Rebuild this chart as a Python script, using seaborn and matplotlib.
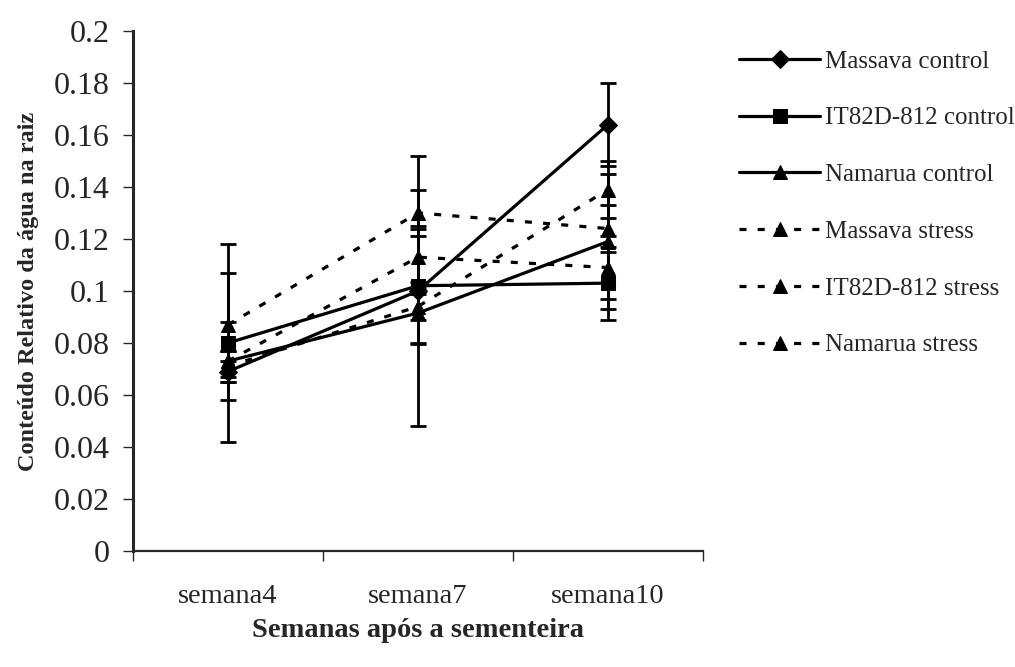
import matplotlib
matplotlib.use("Agg")
import matplotlib.pyplot as plt
import seaborn as sns
import pandas as pd
import numpy as np

weeks = ["semana4", "semana7", "semana10"]
series_names = ["Massava control", "IT82D-812 control", "Namarua control",
                "Massava stress", "IT82D-812 stress", "Namarua stress"]

massava_control = [0.069, 0.100, 0.164]
it82d_control = [0.080, 0.102, 0.103]
namarua_control = [0.073, 0.0915, 0.119]
massava_stress = [0.087, 0.130, 0.124]
it82d_stress = [0.073, 0.113, 0.109]
namarua_stress = [0.071, 0.094, 0.139]

massava_control_err = [0.004, 0.052, 0.016]
it82d_control_err = [0.038, 0.022, 0.014]
namarua_control_err = [0.015, 0.012, 0.026]
massava_stress_err = [0.020, 0.009, 0.009]
it82d_stress_err = [0.004, 0.012, 0.012]
namarua_stress_err = [0.006, 0.005, 0.011]

values = [massava_control, it82d_control, namarua_control,
          massava_stress, it82d_stress, namarua_stress]
errors = [massava_control_err, it82d_control_err, namarua_control_err,
          massava_stress_err, it82d_stress_err, namarua_stress_err]

rows = []
for name, vals in zip(series_names, values):
    for i, (w, v) in enumerate(zip(weeks, vals)):
        rows.append({"semana": w, "pos": i, "serie": name, "valor": v})
df = pd.DataFrame(rows)

sns.set_style("ticks")
plt.rcParams["font.family"] = ["Liberation Serif", "DejaVu Serif"]

fig = plt.figure(figsize=(10.15, 6.67), dpi=100)
ax = fig.add_axes([0.131, 0.174, 0.5616, 0.7796])

markers = {"Massava control": "D", "IT82D-812 control": "s", "Namarua control": "^",
           "Massava stress": "^", "IT82D-812 stress": "^", "Namarua stress": "^"}
dashes = {"Massava control": "", "IT82D-812 control": "", "Namarua control": "",
          "Massava stress": (2.2, 3.5), "IT82D-812 stress": (2.2, 3.5), "Namarua stress": (2.2, 3.5)}
palette = {n: "black" for n in series_names}

# error bars
for name, vals, errs in zip(series_names, values, errors):
    ax.errorbar(np.arange(len(weeks)), vals, yerr=errs, fmt="none", ecolor="black",
                elinewidth=2.0, capsize=5.5, capthick=2.0, zorder=2)

sns.lineplot(data=df, x="pos", y="valor", hue="serie", style="serie",
             hue_order=series_names, style_order=series_names,
             palette=palette, markers=markers, dashes=dashes,
             linewidth=2.3, markersize=9.5, markeredgecolor="black",
             ax=ax, legend=True, zorder=3)

ax.set_xlim(-0.5, 2.5)
ax.set_ylim(0, 0.2)
ax.set_yticks(np.arange(0, 0.2001, 0.02))
ax.set_yticklabels(["0", "0.02", "0.04", "0.06", "0.08", "0.1", "0.12", "0.14", "0.16", "0.18", "0.2"])
ax.set_xticks(range(len(weeks)))
ax.set_xticklabels(weeks)
ax.set_xticks([-0.5, 0.5, 1.5, 2.5], minor=True)
ax.tick_params(axis="x", which="major", length=0, pad=24, labelsize=20.5)
ax.tick_params(axis="x", which="minor", length=7, width=1.0, direction="out")
ax.tick_params(axis="y", length=7, width=1.0, direction="out", labelsize=23, pad=10)
sns.despine(ax=ax)
ax.spines["left"].set_linewidth(2.2)
ax.spines["bottom"].set_linewidth(1.6)

ax.set_xlabel("Semanas após a sementeira", fontsize=20.5, fontweight="bold", labelpad=6)
ax.set_ylabel("Conteúdo Relativo da água na raiz", fontsize=17.5, fontweight="bold", labelpad=10)

handles, labels = ax.get_legend_handles_labels()
ax.legend(handles, labels, loc="upper left", bbox_to_anchor=(1.063, 0.963), frameon=False,
          fontsize=18, handlelength=3.25, handletextpad=0.2, labelspacing=1.37,
          borderaxespad=0, borderpad=0)

fig.savefig("out.png", dpi=100)
